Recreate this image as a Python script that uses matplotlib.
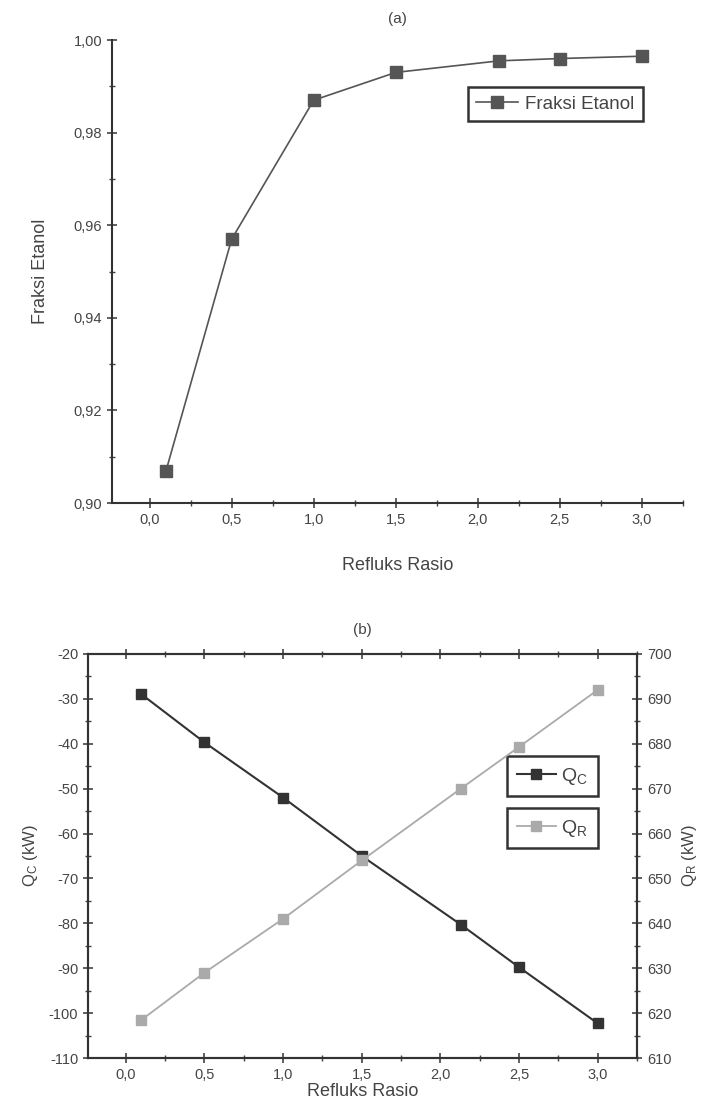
import matplotlib.pyplot as plt
from matplotlib.ticker import MultipleLocator, FuncFormatter

plt.rcParams['font.family'] = ['Liberation Sans', 'DejaVu Sans']
plt.rcParams['text.color'] = '#444444'
plt.rcParams['axes.labelcolor'] = '#444444'
plt.rcParams['xtick.color'] = '#444444'
plt.rcParams['ytick.color'] = '#444444'
plt.rcParams['axes.unicode_minus'] = False
plt.rcParams['mathtext.default'] = 'regular'

# data
refluks = [0.1, 0.5, 1.0, 1.5, 2.13, 2.5, 3.0]
fraksi_etanol = [0.907, 0.957, 0.987, 0.993, 0.9955, 0.996, 0.9965]
q_c = [-29.0, -39.7, -52.0, -65.0, -80.3, -89.8, -102.3]
q_r = [618.5, 629.0, 641.0, 654.0, 670.0, 679.3, 692.0]

def comma(fmt):
    return FuncFormatter(lambda v, p: (fmt % v).replace('.', ','))

def style_ticks(ax):
    ax.tick_params(which='major', direction='inout', length=7, width=1.2, labelsize=10.5)
    ax.tick_params(which='minor', direction='inout', length=4, width=1.0)

fig = plt.figure(figsize=(7.04, 10.99), dpi=100)

# (a)
ax1 = fig.add_axes([0.159, 0.5423, 0.811, 0.4213])
ax1.plot(refluks, fraksi_etanol, '-s', color='#555555', lw=1.2, ms=8,
         label='Fraksi Etanol')
ax1.set_xlim(-0.23, 3.25)
ax1.set_ylim(0.90, 1.00)
ax1.xaxis.set_major_locator(MultipleLocator(0.5))
ax1.xaxis.set_minor_locator(MultipleLocator(0.25))
ax1.yaxis.set_major_locator(MultipleLocator(0.02))
ax1.yaxis.set_minor_locator(MultipleLocator(0.01))
ax1.xaxis.set_major_formatter(comma('%.1f'))
ax1.yaxis.set_major_formatter(comma('%.2f'))
ax1.spines['top'].set_visible(False)
ax1.spines['right'].set_visible(False)
for s in ['left', 'bottom']:
    ax1.spines[s].set_linewidth(1.5)
    ax1.spines[s].set_color('#333333')
style_ticks(ax1)
ax1.set_xlabel('Refluks Rasio', fontsize=13, labelpad=22)
ax1.set_ylabel('Fraksi Etanol', fontsize=13, labelpad=18)
ax1.set_title('(a)', fontsize=11, pad=12)
leg = ax1.legend(loc='upper right', bbox_to_anchor=(0.93, 0.898), fontsize=13.5,
                 fancybox=False, edgecolor='#333333', framealpha=1,
                 handlelength=2.2, handletextpad=0.4, borderpad=0.45,
                 borderaxespad=0)
leg.get_frame().set_linewidth(1.8)

# (b)
ax2 = fig.add_axes([0.125, 0.0373, 0.780, 0.3677])
ax3 = ax2.twinx()
l1, = ax2.plot(refluks, q_c, '-s', color='#333333', lw=1.5, ms=7, label='Q$_C$')
l2, = ax3.plot(refluks, q_r, '-s', color='#aaaaaa', lw=1.3, ms=7, label='Q$_R$')
ax2.set_xlim(-0.24, 3.25)
ax2.set_ylim(-110, -20)
ax3.set_ylim(610, 700)
ax2.xaxis.set_major_locator(MultipleLocator(0.5))
ax2.xaxis.set_minor_locator(MultipleLocator(0.25))
ax2.yaxis.set_major_locator(MultipleLocator(10))
ax2.yaxis.set_minor_locator(MultipleLocator(5))
ax3.yaxis.set_major_locator(MultipleLocator(10))
ax3.yaxis.set_minor_locator(MultipleLocator(5))
ax2.xaxis.set_major_formatter(comma('%.1f'))
ax2.tick_params(axis='x', which='both', top=True)
for a in (ax2, ax3):
    for s in a.spines.values():
        s.set_linewidth(1.5)
        s.set_color('#333333')
    style_ticks(a)
ax2.set_xlabel('Refluks Rasio', fontsize=13, labelpad=1)
ax2.set_ylabel('Q$_C$ (kW)', fontsize=12, labelpad=6)
ax3.set_ylabel('Q$_R$ (kW)', fontsize=12, labelpad=6)
ax2.set_title('(b)', fontsize=11, pad=14)

leg1 = ax2.legend(handles=[l1], loc='upper left', bbox_to_anchor=(0.763, 0.7475),
                  fontsize=14, fancybox=False, edgecolor='#333333', framealpha=1,
                  handlelength=2.0, handletextpad=0.3, borderpad=0.5,
                  borderaxespad=0)
leg1.get_frame().set_linewidth(1.8)
leg2 = ax3.legend(handles=[l2], loc='upper left', bbox_to_anchor=(0.763, 0.619),
                  fontsize=14, fancybox=False, edgecolor='#333333', framealpha=1,
                  handlelength=2.0, handletextpad=0.3, borderpad=0.5,
                  borderaxespad=0)
leg2.get_frame().set_linewidth(1.8)

fig.savefig('out.png', dpi=100)
